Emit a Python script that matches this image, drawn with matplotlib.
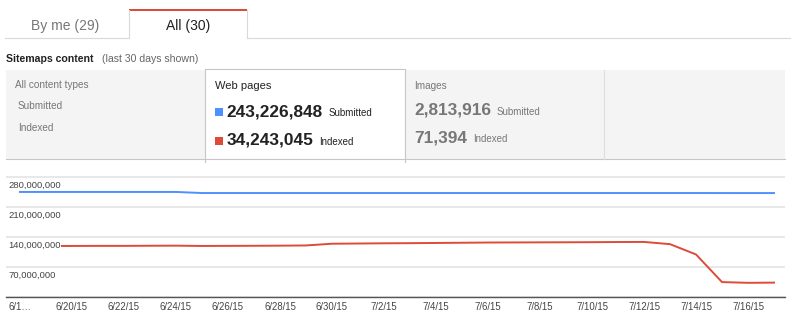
import matplotlib
matplotlib.use('Agg')
import matplotlib.pyplot as plt
from matplotlib.patches import Rectangle

plt.rcParams['font.family'] = ['Liberation Sans', 'DejaVu Sans']

W, H = 800, 322

# daily sitemap counts, 6/18/15 .. 7/17/15
days = ['6/18/15', '6/19/15', '6/20/15', '6/21/15', '6/22/15', '6/23/15',
        '6/24/15', '6/25/15', '6/26/15', '6/27/15', '6/28/15', '6/29/15',
        '6/30/15', '7/1/15', '7/2/15', '7/3/15', '7/4/15', '7/5/15',
        '7/6/15', '7/7/15', '7/8/15', '7/9/15', '7/10/15', '7/11/15',
        '7/12/15', '7/13/15', '7/14/15', '7/15/15', '7/16/15', '7/17/15']
submitted = [245_800_000, 245_800_000, 245_800_000, 245_800_000, 245_800_000,
             245_800_000, 245_800_000, 243_300_000, 243_300_000, 243_300_000,
             243_300_000, 243_300_000, 243_300_000, 243_300_000, 243_300_000,
             243_300_000, 243_300_000, 243_300_000, 243_300_000, 243_300_000,
             243_300_000, 243_300_000, 243_300_000, 243_300_000, 243_300_000,
             243_300_000, 243_300_000, 243_250_000, 243_230_000, 243_226_848]
indexed = [119_500_000, 119_500_000, 119_800_000, 120_000_000, 120_000_000,
           120_300_000, 120_500_000, 119_800_000, 120_000_000, 120_200_000,
           120_500_000, 121_000_000, 125_000_000, 125_500_000, 126_000_000,
           126_300_000, 126_800_000, 127_300_000, 127_800_000, 128_000_000,
           128_200_000, 128_400_000, 128_600_000, 129_000_000, 129_200_000,
           124_000_000, 100_000_000, 35_500_000, 33_800_000, 34_243_045]

tick_labels = ['6/1…', '6/20/15', '6/22/15', '6/24/15', '6/26/15', '6/28/15',
               '6/30/15', '7/2/15', '7/4/15', '7/6/15', '7/8/15', '7/10/15',
               '7/12/15', '7/14/15', '7/16/15']
y_ticks = [0, 70_000_000, 140_000_000, 210_000_000, 280_000_000]

images_submitted = 2_813_916
images_indexed = 71_394

BLUE = '#4d90fe'
RED = '#dd4b39'

fig = plt.figure(figsize=(W / 100, H / 100), dpi=100)
ui = fig.add_axes([0, 0, 1, 1])
ui.set_xlim(0, W)
ui.set_ylim(H, 0)
ui.axis('off')


def count_row(x, y, value, caption, color):
    """Big bold number followed by a small caption on the same baseline."""
    num = ui.text(x, y, f'{value:,}', ha='left', va='baseline', fontsize=12.4,
                  fontweight='bold', color=color)
    fig.canvas.draw()
    bb = num.get_window_extent()
    x_end = ui.transData.inverted().transform((bb.x1, bb.y0))[0]
    ui.text(x_end + 6, y, caption, ha='left', va='baseline', fontsize=7, color=color)


# tabs
ui.plot([5, 129], [38, 38], color='#d9d9d9', lw=0.8)
ui.plot([247, 790], [38, 38], color='#d9d9d9', lw=0.8)
ui.plot([129, 129], [10, 38], color='#d9d9d9', lw=0.8)
ui.plot([247, 247], [10, 38], color='#d9d9d9', lw=0.8)
ui.add_patch(Rectangle((129, 8.5), 118, 2.3, color=RED, lw=0))
ui.text(65, 25.5, 'By me (29)', ha='center', va='center', fontsize=10, color='#777777')
ui.text(188, 25.5, 'All (30)', ha='center', va='center', fontsize=10, color='#222222')

ui.text(6, 62, 'Sitemaps content', ha='left', va='baseline', fontsize=7.6,
        fontweight='bold', color='#222222')
ui.text(101.5, 62, '(last 30 days shown)', ha='left', va='baseline', fontsize=7.6,
        color='#666666')

# summary panels
ui.add_patch(Rectangle((6, 70), 779, 89, facecolor='#f4f4f4', edgecolor='none'))
ui.plot([6, 785], [159, 159], color='#c6c6c6', lw=0.8)
ui.plot([604, 604], [70, 159], color='#dddddd', lw=0.8)
ui.add_patch(Rectangle((205, 69), 200, 93, facecolor='white', edgecolor='none'))
ui.plot([205, 205, 405, 405], [162, 69, 69, 162], color='#c6c6c6', lw=0.8)

ui.text(15, 85, 'All content types', ha='left', va='center', fontsize=7.2, color='#777777')
ui.text(18, 106, 'Submitted', ha='left', va='center', fontsize=7.2, color='#777777')
ui.text(18, 128, 'Indexed', ha='left', va='center', fontsize=7.2, color='#777777')

ui.text(215, 86, 'Web pages', ha='left', va='center', fontsize=8, color='#222222')
ui.add_patch(Rectangle((215, 108.3), 8, 8, color=BLUE, lw=0))
ui.add_patch(Rectangle((215, 136.7), 8, 8, color=RED, lw=0))
count_row(226.5, 116, submitted[-1], 'Submitted', '#222222')
count_row(226.5, 144.5, indexed[-1], 'Indexed', '#222222')

ui.text(414, 86, 'Images', ha='left', va='center', fontsize=7.2, color='#777777')
count_row(414, 114.5, images_submitted, 'Submitted', '#777777')
count_row(414, 142, images_indexed, 'Indexed', '#777777')

# line chart
base, top = 297.3, 172
ax = fig.add_axes([6 / W, (H - base) / H, 779 / W, (base - top) / H])
x = list(range(len(days)))
ax.plot(x, submitted, color=BLUE, lw=1.4, zorder=3)
ax.plot(x, indexed, color=RED, lw=1.4, zorder=3)

px_per_val = 120.0 / 280_000_000
ax.set_ylim(0, (base - top) / px_per_val)
ax.set_xlim(-14 / 26, 765 / 26)

ax.set_yticks(y_ticks)
ax.yaxis.grid(True, color='#e2e2e2', lw=1.1)
ax.set_axisbelow(True)
ax.tick_params(axis='y', length=0, labelleft=False)
for v in y_ticks[1:]:
    ax.annotate(f'{v:,}', xy=(0, v), xycoords=('axes fraction', 'data'),
                xytext=(2, -7.7), textcoords='offset pixels', ha='left', va='center',
                fontsize=6.8, color='#444444', zorder=5,
                bbox=dict(fc='white', ec='none', pad=0.3))

ax.set_xticks(list(range(0, len(days), 2)))
ax.set_xticklabels(tick_labels)
ax.tick_params(axis='x', length=0, pad=3.4, labelsize=6.9, labelcolor='#444444')

for side in ['top', 'left', 'right']:
    ax.spines[side].set_visible(False)
ax.spines['bottom'].set_color('#555555')
ax.spines['bottom'].set_linewidth(1.0)

fig.savefig('out.png', dpi=100, facecolor='white')
